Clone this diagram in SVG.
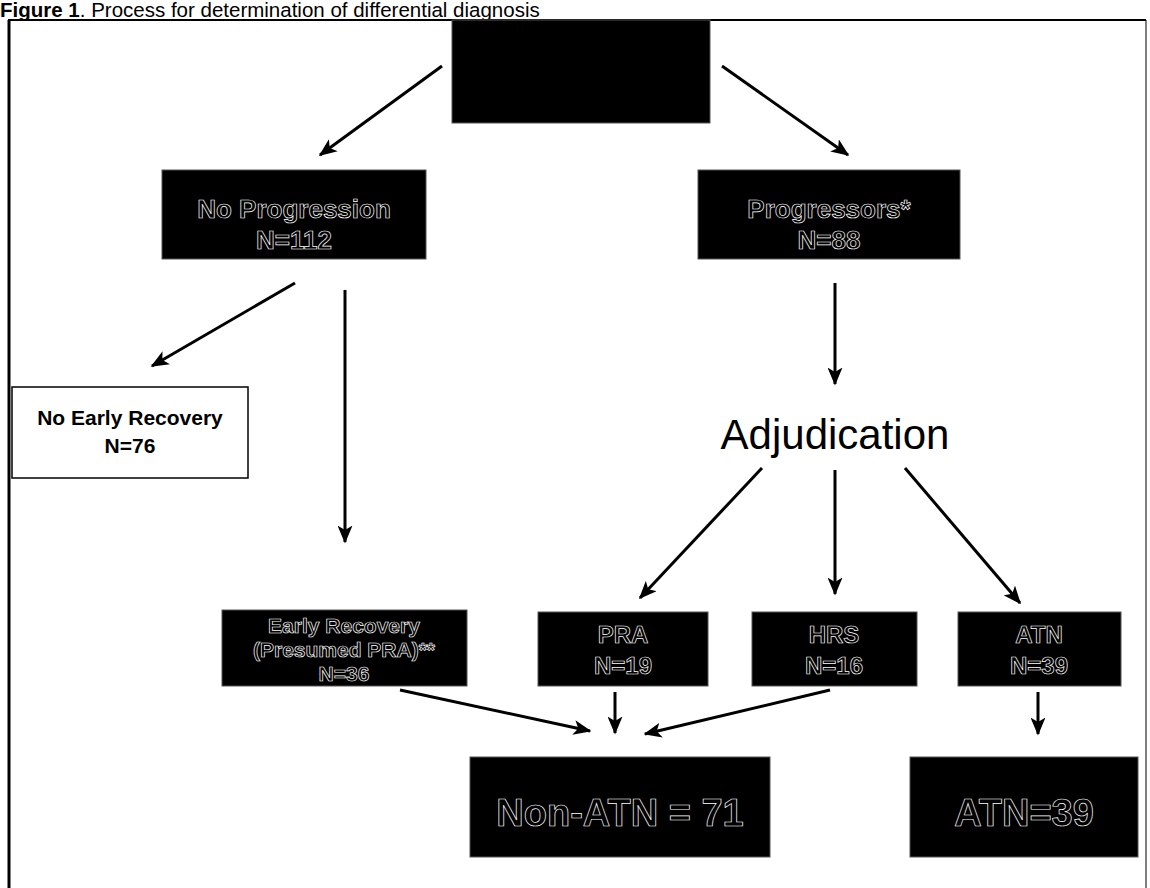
<svg xmlns="http://www.w3.org/2000/svg" width="1150" height="888" viewBox="0 0 1150 888">
<defs>
<marker id="ah" viewBox="0 0 12 10" refX="11" refY="5" markerWidth="6" markerHeight="5" orient="auto" markerUnits="strokeWidth">
<path d="M0,0 L12,5 L0,10 L3,5 z" fill="#000"/>
</marker>
<style>
.box{fill:#000;stroke:#555;stroke-width:1}
.ot{font-family:"Liberation Sans",Arial,sans-serif;font-weight:bold;fill:#000;stroke:#fff;stroke-width:0.7;text-anchor:middle}
.c{stroke:#000;stroke-width:3;fill:none;marker-end:url(#ah)}
.bt{font-family:"Liberation Sans",Arial,sans-serif;font-weight:bold;fill:#000;text-anchor:middle}
</style>
</defs>
<rect x="0" y="0" width="1150" height="888" fill="#fff"/>
<text x="0" y="17" font-family="Liberation Sans,Arial,sans-serif" font-size="20.5" fill="#000"><tspan font-weight="bold">Figure 1</tspan>. Process for determination of differential diagnosis</text>
<g id="frame">
<line x1="8" y1="20" x2="1146" y2="20" stroke="#000" stroke-width="2"/>
<line x1="9" y1="20" x2="9" y2="888" stroke="#000" stroke-width="3"/>
<line x1="1146" y1="20" x2="1146" y2="888" stroke="#000" stroke-width="1"/>
</g>
<g id="connectors">
<line class="c" x1="442" y1="66" x2="320" y2="155"/>
<line class="c" x1="722" y1="66" x2="848" y2="155"/>
<line class="c" x1="295" y1="283" x2="152" y2="366"/>
<line class="c" x1="345" y1="290" x2="345" y2="542"/>
<line class="c" x1="835" y1="283" x2="835" y2="384"/>
<line class="c" x1="762" y1="468" x2="640" y2="598"/>
<line class="c" x1="835" y1="470" x2="835" y2="594"/>
<line class="c" x1="905" y1="468" x2="1020" y2="603"/>
<line class="c" x1="400" y1="690" x2="590" y2="731"/>
<line class="c" x1="615" y1="692" x2="615" y2="733"/>
<line class="c" x1="830" y1="690" x2="645" y2="734"/>
<line class="c" x1="1038" y1="692" x2="1038" y2="734"/>
</g>
<g id="top"><rect class="box" x="452" y="20" width="258" height="103"/></g>
<g id="noprog">
<rect class="box" x="162" y="170" width="264" height="89"/>
<text class="ot" x="294" y="218" font-size="26">No Progression</text>
<text class="ot" x="294" y="249" font-size="26">N=112</text>
</g>
<g id="prog">
<rect class="box" x="698" y="170" width="262" height="89"/>
<text class="ot" x="829" y="218" font-size="26">Progressors*</text>
<text class="ot" x="829" y="249" font-size="26">N=88</text>
</g>
<g id="noearly">
<rect x="12" y="387" width="236" height="91" fill="#fff" stroke="#000" stroke-width="1.5"/>
<text class="bt" x="130" y="425" font-size="21">No Early Recovery</text>
<text class="bt" x="130" y="453" font-size="21">N=76</text>
</g>
<g id="adjudication">
<text x="835" y="449" font-family="Liberation Sans,Arial,sans-serif" font-size="42" text-anchor="middle">Adjudication</text>
</g>
<g id="early">
<rect class="box" x="222" y="610" width="245" height="76"/>
<text class="ot" x="344" y="633" font-size="21">Early Recovery</text>
<text class="ot" x="344" y="657" font-size="21">(Presumed PRA)**</text>
<text class="ot" x="344" y="681" font-size="21">N=36</text>
</g>
<g id="pra">
<rect class="box" x="538" y="612" width="170" height="74"/>
<text class="ot" x="623" y="643" font-size="24">PRA</text>
<text class="ot" x="623" y="674" font-size="24">N=19</text>
</g>
<g id="hrs">
<rect class="box" x="752" y="612" width="165" height="74"/>
<text class="ot" x="834" y="643" font-size="24">HRS</text>
<text class="ot" x="834" y="674" font-size="24">N=16</text>
</g>
<g id="atn">
<rect class="box" x="958" y="612" width="163" height="74"/>
<text class="ot" x="1039" y="643" font-size="24">ATN</text>
<text class="ot" x="1039" y="674" font-size="24">N=39</text>
</g>
<g id="nonatn">
<rect class="box" x="470" y="757" width="300" height="100"/>
<text class="ot" x="620" y="826" font-size="38" stroke-width="1">Non-ATN = 71</text>
</g>
<g id="atntotal">
<rect class="box" x="910" y="757" width="228" height="100"/>
<text class="ot" x="1024" y="826" font-size="38" stroke-width="1">ATN=39</text>
</g>
</svg>
